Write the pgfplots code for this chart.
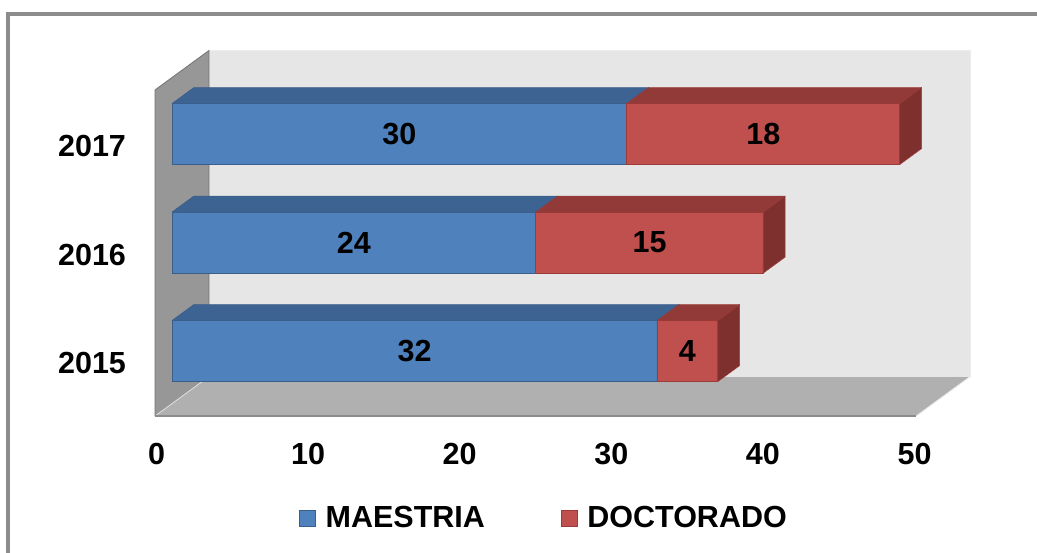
\documentclass[border=0pt]{standalone}
\usepackage{fontspec}
\setmainfont{Liberation Sans}
\usepackage{pgfplots}
\pgfplotsset{compat=1.18}
\definecolor{bluefront}{HTML}{4F81BD}
\definecolor{bluetop}{HTML}{3C6391}
\definecolor{blueside}{HTML}{2F4F75}
\definecolor{blueedge}{HTML}{3A5F8B}
\definecolor{redfront}{HTML}{C0504D}
\definecolor{redtop}{HTML}{913A38}
\definecolor{redside}{HTML}{7E302E}
\definecolor{rededge}{HTML}{9B3C39}
\definecolor{backwall}{HTML}{E6E6E6}
\definecolor{sidewall}{HTML}{979797}
\definecolor{floorc}{HTML}{B0B0B0}
\definecolor{framec}{HTML}{8C8C8C}
\newcommand\bigbf{\bfseries\fontsize{30.5}{36}\selectfont}
% one stacked segment as a 3D box: #1 start, #2 end, #3 low, #4 high, #5 front, #6 top, #7 side, #8 edge
\newcommand\barseg[8]{%
  \addplot3[fill=#5, draw=#8, line width=0.8pt, line join=round] coordinates {(#1,0.315,#3) (#2,0.315,#3) (#2,0.315,#4) (#1,0.315,#4) (#1,0.315,#3)};
  \addplot3[fill=#6, draw=#8, line width=0.6pt, line join=round] coordinates {(#1,0.315,#4) (#2,0.315,#4) (#2,0.72,#4) (#1,0.72,#4) (#1,0.315,#4)};
  \addplot3[fill=#7, draw=#8, line width=0.6pt, line join=round] coordinates {(#2,0.315,#3) (#2,0.72,#3) (#2,0.72,#4) (#2,0.315,#4) (#2,0.315,#3)};
}
\begin{document}
\begin{tikzpicture}
\useasboundingbox (0pt,0pt) rectangle (1037pt,552pt);
\clip (0pt,0pt) rectangle (1037pt,552pt);
\fill[white] (0pt,0pt) rectangle (1037pt,552pt);
\draw[framec, line width=4pt] (8pt,537.5pt) rectangle (1060pt,-20pt);

% 2D axis: tick labels and legend
\begin{axis}[
  anchor=origin, at={(155pt,188.5pt)},
  x=15.16pt, y=108.5pt,
  xmin=-4.155, xmax=50, ymin=-0.834, ymax=2.6,
  axis line style={draw=none}, tick style={draw=none},
  xtick={0,10,20,30,40,50},
  xticklabels={0,10,20,30,40,50},
  ytick={0,1,2}, yticklabels={2015,2016,2017},
  xticklabel style={anchor=center, font=\bigbf, xshift=1.5pt},
  yticklabel style={anchor=center, font=\bigbf},
  /pgf/number format/assume math mode=true,
  clip=false,
  legend columns=2,
  legend style={draw=none, fill=none, font=\bigbf,
    at={(axis description cs:0.5506,-0.1718)}, anchor=center,
    /tikz/every even column/.append style={column sep=74pt}},
  legend image code/.code={\draw[#1] (0pt,-8pt) rectangle (16pt,8pt); \path[draw=none, fill=none] (0pt,0pt) rectangle (24pt,0.1pt);},
]
\addlegendimage{fill=bluefront, draw=blueedge, line width=0.8pt}
\addlegendentry{MAESTRIA}
\addlegendimage{fill=redfront, draw=rededge, line width=0.8pt}
\addlegendentry{DOCTORADO}
\end{axis}

% 3D axis: walls, floor and bars
\begin{axis}[
  anchor=origin, at={(155pt,188.5pt)},
  x={(15.16pt,0pt)}, y={(54pt,39.5pt)}, z={(0pt,108.5pt)},
  xmin=0, xmax=51, ymin=0, ymax=1, zmin=-0.5, zmax=2.6,
  hide axis, clip=false,
]
% back wall
\addplot3[fill=backwall, draw=white!85!gray, line width=0.8pt] coordinates {(0,1,-0.484) (50.2,1,-0.484) (50.2,1,2.521) (0,1,2.521) (0,1,-0.484)};
% left wall
\addplot3[fill=sidewall, draw=gray!90!black, line width=0.8pt] coordinates {(0,0,-0.484) (0,1,-0.484) (0,1,2.521) (0,0,2.521) (0,0,-0.484)};
% floor
\addplot3[fill=floorc, draw=white!80!gray, line width=0.8pt] coordinates {(0,0,-0.484) (50.2,0,-0.484) (50.2,1,-0.484) (0,1,-0.484) (0,0,-0.484)};
\addplot3[draw=framec, line width=2.5pt] coordinates {(0,0,-0.484) (50.2,0,-0.484)};

% 2017: MAESTRIA 30, DOCTORADO 18
\barseg{0}{30}{1.719}{2.281}{bluefront}{bluetop}{blueside}{blueedge}
\barseg{30}{48}{1.719}{2.281}{redfront}{redtop}{redside}{rededge}
% 2016: MAESTRIA 24, DOCTORADO 15
\barseg{0}{24}{0.719}{1.281}{bluefront}{bluetop}{blueside}{blueedge}
\barseg{24}{39}{0.719}{1.281}{redfront}{redtop}{redside}{rededge}
% 2015: MAESTRIA 32, DOCTORADO 4
\barseg{0}{32}{-0.281}{0.281}{bluefront}{bluetop}{blueside}{blueedge}
\barseg{32}{36}{-0.281}{0.281}{redfront}{redtop}{redside}{rededge}

\node[font=\bigbf] at (axis cs:15,0.315,2) {30};
\node[font=\bigbf] at (axis cs:39,0.315,2) {18};
\node[font=\bigbf] at (axis cs:12,0.315,1) {24};
\node[font=\bigbf] at (axis cs:31.5,0.315,1) {15};
\node[font=\bigbf] at (axis cs:16,0.315,0) {32};
\node[font=\bigbf] at (axis cs:34,0.315,0) {4};
\end{axis}
\end{tikzpicture}
\end{document}
